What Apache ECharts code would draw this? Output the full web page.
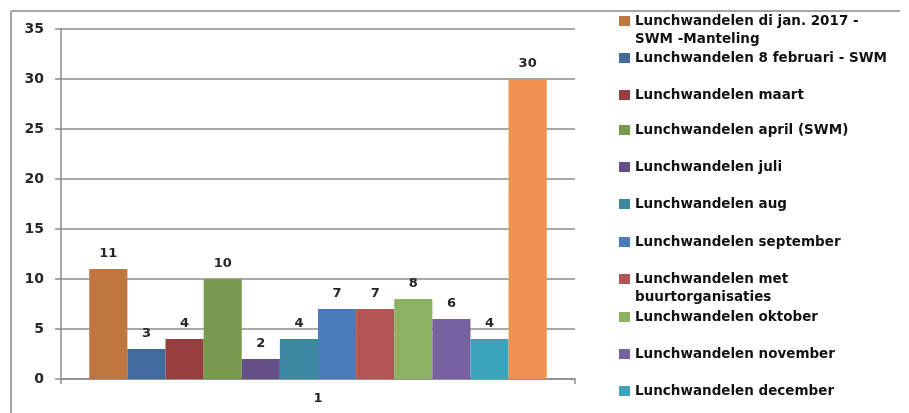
<!DOCTYPE html>
<html>
<head>
<meta charset="utf-8">
<script src="https://cdn.jsdelivr.net/npm/echarts@6/dist/echarts.min.js"></script>
<style>
html,body{margin:0;padding:0;background:#fff;overflow:hidden;}
#chart{width:909px;height:413px;}
</style>
</head>
<body>
<div id="chart"></div>
<script>
var categories = ['1'];
var seriesNames = [
  'Lunchwandelen di jan. 2017 -\nSWM -Manteling',
  'Lunchwandelen 8 februari - SWM',
  'Lunchwandelen maart',
  'Lunchwandelen april (SWM)',
  'Lunchwandelen juli',
  'Lunchwandelen aug',
  'Lunchwandelen september',
  'Lunchwandelen met\nbuurtorganisaties',
  'Lunchwandelen oktober',
  'Lunchwandelen november',
  'Lunchwandelen december',
  'Lunchwandelen totaal'
];
var seriesValues = [11, 3, 4, 10, 2, 4, 7, 7, 8, 6, 4, 30];
var yTicks = [0, 5, 10, 15, 20, 25, 30, 35];
var colors = ['#C0773F', '#426A9F', '#953F3E', '#779A4F', '#644F87', '#3B89A0',
              '#4A7BBA', '#B55553', '#8DB264', '#7861A0', '#3DA4BE', '#EE9151'];
var legendCenters = [21, 58, 95, 130, 167, 204, 242, 279, 317, 354, 391];

var FONT = 'DejaVu Sans';
var LFS = 13.5;
var series = seriesNames.map(function (n, i) {
  return {
    type: 'bar',
    name: n,
    data: [seriesValues[i]],
    barGap: '0%',
    barCategoryGap: '11%',
    itemStyle: { color: colors[i] },
    label: {
      show: true, position: 'top', distance: 9,
      color: '#262626', fontFamily: FONT, fontWeight: 'bold', fontSize: 13
    }
  };
});

var legends = [];
var graphics = [
  { type: 'line', shape: { x1: 11, y1: 11, x2: 900, y2: 11 },
    style: { stroke: '#a6a6a6', lineWidth: 2 } },
  { type: 'line', shape: { x1: 11, y1: 11, x2: 11, y2: 413 },
    style: { stroke: '#a6a6a6', lineWidth: 2 } }
];
var textStyle = { color: '#111111', fontFamily: FONT, fontWeight: 'bold', fontSize: LFS, lineHeight: 18 };
for (var i = 0; i < 11; i++) {
  var parts = seriesNames[i].split('\n');
  legends.push({
    data: [seriesNames[i]],
    orient: 'vertical',
    left: 619,
    top: legendCenters[i] - 9,
    padding: 0,
    icon: 'rect',
    itemWidth: 11,
    itemHeight: 10,
    itemGap: 0,
    selectedMode: false,
    formatter: function (name) { return name.split('\n')[0]; },
    textStyle: textStyle
  });
  if (parts.length > 1) {
    graphics.push({
      type: 'text', x: 635, y: legendCenters[i] + 18,
      style: { text: parts[1], fill: '#111111', font: 'bold ' + LFS + 'px "' + FONT + '"',
               verticalAlign: 'middle', align: 'left' }
    });
  }
}

var chart = echarts.init(document.getElementById('chart'), null, { renderer: 'canvas' });
chart.setOption({
  animation: false,
  color: colors,
  grid: { left: 61, top: 29, right: 334, bottom: 34, containLabel: false },
  legend: legends,
  graphic: graphics,
  xAxis: {
    type: 'category',
    data: categories,
    axisLine: { lineStyle: { color: '#8c8c8c', width: 1.5 } },
    axisTick: { show: true, length: 5, inside: false, lineStyle: { color: '#8c8c8c', width: 1.5 } },
    axisLabel: { color: '#262626', fontFamily: FONT, fontWeight: 'bold', fontSize: 13, margin: 13 }
  },
  yAxis: {
    type: 'value',
    min: yTicks[0],
    max: yTicks[yTicks.length - 1],
    interval: 5,
    axisLine: { show: true, lineStyle: { color: '#8c8c8c', width: 1.5 } },
    axisTick: { show: true, length: 6, lineStyle: { color: '#8c8c8c', width: 1.5 } },
    splitLine: { lineStyle: { color: '#8c8c8c', width: 1.5 } },
    axisLabel: { color: '#262626', fontFamily: FONT, fontWeight: 'bold', fontSize: 14, margin: 17 }
  },
  series: series
});
</script>
</body>
</html>
